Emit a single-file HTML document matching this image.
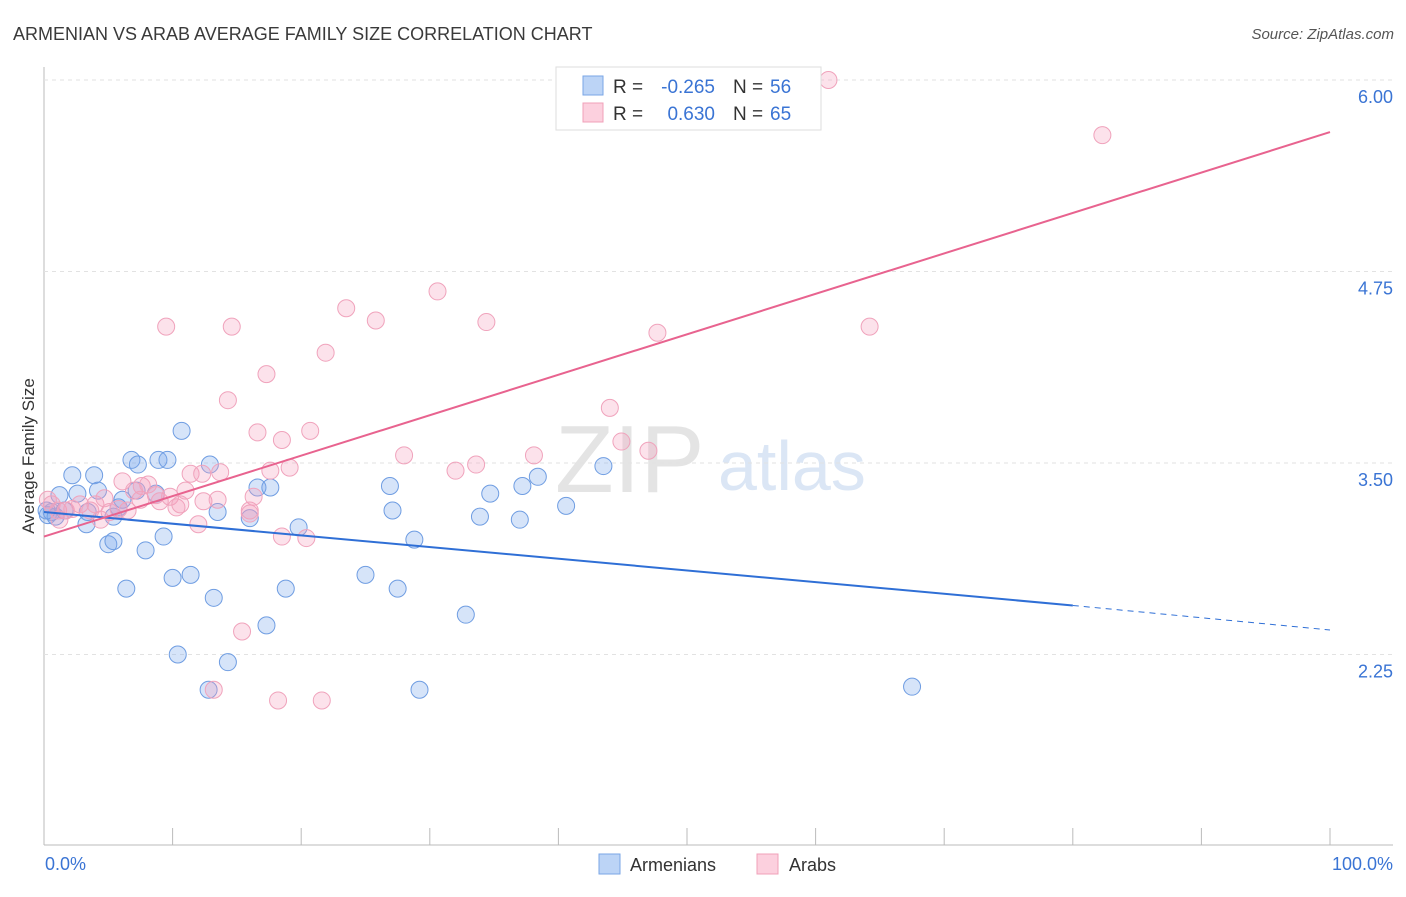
<!DOCTYPE html>
<html><head><meta charset="utf-8"><style>
body{margin:0;background:#fff;font-family:"Liberation Sans",sans-serif;}
svg text{font-family:"Liberation Sans",sans-serif;}
</style></head><body>
<svg id="c" width="1406" height="892" xmlns="http://www.w3.org/2000/svg">
<text x="13" y="40" font-size="18" fill="#3a3a3a">ARMENIAN VS ARAB AVERAGE FAMILY SIZE CORRELATION CHART</text>
<text x="1394" y="39" font-size="15" fill="#555" font-style="italic" text-anchor="end">Source: ZipAtlas.com</text>
<text x="34" y="456" font-size="17" fill="#333" text-anchor="middle" transform="rotate(-90 34 456)">Average Family Size</text>
<text x="555" y="492" font-size="96" fill="#e4e4e4" font-family="Liberation Serif">ZIP</text>
<text x="718" y="490" font-size="70" fill="#dbe6f5">atlas</text>
<g id="grid"></g><g id="marks"></g>
<rect x="556" y="67" width="265" height="63" fill="#fff" stroke="#ddd"/>
<rect x="583" y="76" width="20" height="19" fill="#bcd4f6" stroke="#7aa6e6"/>
<rect x="583" y="103" width="20" height="19" fill="#fcd0de" stroke="#f0a0b8"/>
<g font-size="19">
<text x="613" y="93" fill="#333">R =</text>
<text x="715" y="93" fill="#3a74d4" text-anchor="end">-0.265</text>
<text x="733" y="93" fill="#333">N =</text>
<text x="770" y="93" fill="#3a74d4">56</text>
<text x="613" y="120" fill="#333">R =</text>
<text x="715" y="120" fill="#3a74d4" text-anchor="end">0.630</text>
<text x="733" y="120" fill="#333">N =</text>
<text x="770" y="120" fill="#3a74d4">65</text>
</g>
<text x="45" y="870" font-size="18" fill="#3a74d4">0.0%</text>
<text x="1393" y="870" font-size="18" fill="#3a74d4" text-anchor="end">100.0%</text>
<rect x="599" y="854" width="21" height="20" fill="#bcd4f6" stroke="#7aa6e6"/>
<text x="630" y="871" font-size="18" fill="#333">Armenians</text>
<rect x="757" y="854" width="21" height="20" fill="#fcd0de" stroke="#f0a0b8"/>
<text x="789" y="871" font-size="18" fill="#333">Arabs</text>
</svg>
<script>
const yTicks=[6.00,4.75,3.50,2.25];
const yTickLabels=["6.00","4.75","3.50","2.25"];
const xTicks=[0,10,20,30,40,50,60,70,80,90,100];
const armX=[0.3,0.6,0.9,1.2,1.6,2.2,2.6,3.3,3.4,3.9,4.2,5.0,5.4,5.4,5.8,6.1,6.4,6.8,7.2,7.3,7.9,8.7,8.9,9.3,9.6,10.0,10.4,10.7,11.4,12.8,12.9,13.2,13.5,14.3,16.0,16.6,17.3,17.6,18.8,19.8,25.0,26.9,27.1,27.5,28.8,29.2,32.8,33.9,34.7,37.0,37.2,38.4,40.6,43.5,67.5,0.2];
const armY=[3.16,3.18,3.15,3.29,3.19,3.42,3.30,3.10,3.18,3.42,3.32,2.97,2.99,3.15,3.21,3.26,2.68,3.52,3.32,3.49,2.93,3.30,3.52,3.02,3.52,2.75,2.25,3.71,2.77,2.02,3.49,2.62,3.18,2.20,3.14,3.34,2.44,3.34,2.68,3.08,2.77,3.35,3.19,2.68,3.00,2.02,2.51,3.15,3.30,3.13,3.35,3.41,3.22,3.48,2.04,3.19];
const arbX=[0.3,0.6,1.1,1.7,2.2,2.8,3.6,4.0,4.7,5.1,5.8,6.1,6.5,7.0,7.6,8.1,8.7,9.0,9.5,9.8,10.3,10.6,11.0,11.4,12.0,12.3,12.4,13.2,13.5,13.7,14.3,14.6,15.4,16.0,16.3,16.6,17.3,17.6,18.2,18.5,18.5,19.1,20.4,20.7,21.6,21.9,23.5,25.8,28.0,30.6,32.0,33.6,34.4,38.1,44.0,44.9,47.0,47.7,61.0,64.2,82.3,1.2,4.4,7.5,16.0];
const arbY=[3.26,3.23,3.19,3.19,3.20,3.23,3.19,3.23,3.27,3.18,3.20,3.38,3.19,3.32,3.35,3.36,3.29,3.25,4.39,3.28,3.21,3.23,3.32,3.43,3.10,3.43,3.25,2.02,3.26,3.44,3.91,4.39,2.40,3.17,3.28,3.70,4.08,3.45,1.95,3.65,3.02,3.47,3.01,3.71,1.95,4.22,4.51,4.43,3.55,4.62,3.45,3.49,4.42,3.55,3.86,3.64,3.58,4.35,6.00,4.39,5.64,3.13,3.13,3.26,3.19];
const armTrend=[3.18,2.57,2.41]; // at x=0, 80, 100
const arbTrend=[3.02,5.66]; // at x=0, 100
const X=v=>44+v*12.86, Y=v=>80+(6-v)*153.2;
const NS="http://www.w3.org/2000/svg";
function mk(t,a,p){const e=document.createElementNS(NS,t);for(const k in a)e.setAttribute(k,a[k]);p.appendChild(e);return e;}
const g=document.getElementById('grid'), m=document.getElementById('marks');
const ax=mk('line',{x1:44,y1:67,x2:44,y2:845,stroke:'#bbb'},g);


const bx=mk('line',{x1:44,y1:845,x2:1393,y2:845,stroke:'#bbb'},g);


yTicks.forEach((v,i)=>{
 const l=mk('line',{x1:44,y1:Y(v),x2:1393,y2:Y(v),stroke:'#e2e2e2','stroke-dasharray':'4 4'},g);
 
 
 const t=mk('text',{x:1393,y:Y(v)+23,'font-size':18,fill:'#3a74d4','text-anchor':'end'},g);
 t.textContent=yTickLabels[i];
 
 
});
xTicks.forEach(v=>{
 const l=mk('line',{x1:X(v),y1:828,x2:X(v),y2:845,stroke:'#bbb'},g);
 
 
});
armX.forEach((x,i)=>{
 const c=mk('circle',{cx:X(x),cy:Y(armY[i]),r:8.5,fill:'rgba(120,165,235,0.3)',stroke:'#6f9de2','stroke-width':1},m);
 
 
});
arbX.forEach((x,i)=>{
 const c=mk('circle',{cx:X(x),cy:Y(arbY[i]),r:8.5,fill:'rgba(244,160,190,0.3)',stroke:'#f0a3bc','stroke-width':1},m);
 
 
});
const l1=mk('line',{x1:X(0),y1:Y(armTrend[0]),x2:X(80),y2:Y(armTrend[1]),stroke:'#2f6fd6','stroke-width':2},m);


const l2=mk('line',{x1:X(80),y1:Y(armTrend[1]),x2:X(100),y2:Y(armTrend[2]),stroke:'#2f6fd6','stroke-width':1,'stroke-dasharray':'6 5'},m);


const l3=mk('line',{x1:X(0),y1:Y(arbTrend[0]),x2:X(100),y2:Y(arbTrend[1]),stroke:'#e8638f','stroke-width':2},m);


</script>
</body></html>
